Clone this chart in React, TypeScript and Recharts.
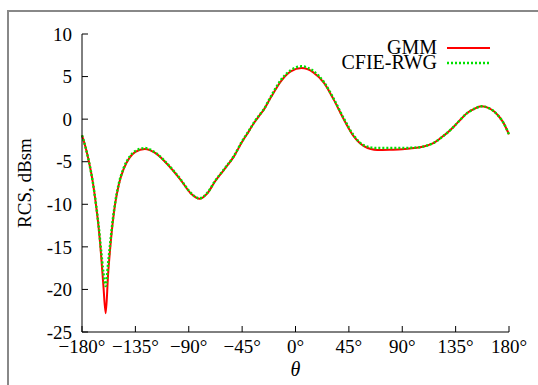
import { LineChart, Line, XAxis, YAxis, Legend } from 'recharts';

// angle samples (deg) and the two RCS curves (dBsm)
const theta = [
  -180, -177, -174, -171, -168, -166, -164, -162, -160, -158, -156, -154, -152, -149, -145, -140,
  -135, -127, -118, -108, -97, -88, -81, -74, -68, -60, -52, -45, -39, -35, -30, -27, -21, -12,
  -4, 5, 15, 24, 32, 41, 49, 58, 69, 80, 90, 100, 105, 112, 117, 123, 128, 134, 139, 145, 150,
  157, 163, 167, 171, 175, 180,
];
const gmm = [
  -1.9, -3.3, -5.1, -7.3, -10.3, -12.7, -15.8, -19.5, -22.8, -18.2, -14.8, -12.0, -9.9, -7.7,
  -5.9, -4.55, -3.85, -3.5, -4.0, -5.3, -7.1, -8.75, -9.35, -8.65, -7.35, -5.9, -4.4, -2.65, -1.35,
  -0.45, 0.5, 1.05, 2.5, 4.5, 5.6, 6.0, 5.5, 4.25, 2.35, -0.1, -2.0, -3.2, -3.63, -3.6, -3.55,
  -3.4, -3.3, -3.05, -2.75, -2.15, -1.6, -0.8, -0.07, 0.75, 1.15, 1.5, 1.3, 0.95, 0.4, -0.35,
  -1.8,
];
const cfie = [
  -1.9, -3.3, -5.1, -7.3, -10.2, -12.5, -15.3, -18.0, -19.6, -17.0, -14.3, -11.8, -9.8, -7.6,
  -5.8, -4.45, -3.75, -3.4, -3.95, -5.25, -7.05, -8.7, -9.3, -8.6, -7.3, -5.85, -4.35, -2.6,
  -1.3, -0.4, 0.55, 1.1, 2.6, 4.65, 5.75, 6.2, 5.65, 4.35, 2.45, 0.0, -1.9, -3.1, -3.4, -3.4,
  -3.4, -3.35, -3.3, -3.05, -2.75, -2.15, -1.6, -0.8, -0.05, 0.75, 1.15, 1.5, 1.3, 0.95, 0.4,
  -0.35, -1.8,
];
const xTicks = [-180, -135, -90, -45, 0, 45, 90, 135, 180];
const yTicks = [-25, -20, -15, -10, -5, 0, 5, 10];

const data = theta.map((t, i) => ({ theta: t, gmm: gmm[i], cfie: cfie[i] }));

const FONT = '"Liberation Serif", "Times New Roman", serif';
const RED = '#ff0000';
const GREEN = '#00e000';

const fmtDeg = (v: number) => (v < 0 ? `\u2212${Math.abs(v)}°` : `${v}°`);

const LegendBox = () => (
  <div style={{ fontFamily: FONT, fontSize: 20, color: '#000', lineHeight: '15px' }}>
    {[
      { name: 'GMM', color: RED, dash: undefined, w: 2 },
      { name: 'CFIE-RWG', color: GREEN, dash: '2 2', w: 2.5 },
    ].map((it) => (
      <div key={it.name} style={{ display: 'flex', alignItems: 'center', height: 15 }}>
        <span style={{ width: 137, textAlign: 'right', whiteSpace: 'nowrap' }}>{it.name}</span>
        <svg width={53} height={15}>
          <line x1={10} x2={53} y1={8} y2={8} stroke={it.color} strokeWidth={it.w} strokeDasharray={it.dash} />
        </svg>
      </div>
    ))}
  </div>
);

export default function App() {
  return (
    <div style={{ position: 'absolute', left: 0, top: 0, width: 538, height: 385, background: '#fff' }}>
      <div
        style={{
          position: 'absolute',
          left: 7,
          top: 10,
          width: 540,
          height: 400,
          borderTop: '2px solid #888',
          borderLeft: '2px solid #888',
        }}
      />
      <LineChart
        width={538}
        height={385}
        data={data}
        margin={{ top: 34, right: 29, bottom: 0, left: 0 }}
        style={{ position: 'absolute', left: 0, top: 0 }}
      >
        <XAxis
          dataKey="theta"
          type="number"
          domain={[-180, 180]}
          ticks={xTicks}
          tickFormatter={fmtDeg}
          height={53}
          stroke="#000"
          tickSize={-6}
          tickMargin={14}
          tick={{ fill: '#000', fontSize: 19, fontFamily: FONT }}
          label={{ value: 'θ', position: 'insideBottom', offset: 9, fill: '#000', fontSize: 20, fontStyle: 'italic', fontFamily: FONT }}
        />
        <XAxis
          xAxisId="top"
          orientation="top"
          dataKey="theta"
          type="number"
          domain={[-180, 180]}
          ticks={xTicks}
          height={0}
          stroke="#000"
          tickSize={-6}
          tick={false}
        />
        <YAxis
          type="number"
          domain={[-25, 10]}
          ticks={yTicks}
          width={82}
          stroke="#000"
          tickSize={-6}
          tickMargin={16}
          tick={{ fill: '#000', fontSize: 19, fontFamily: FONT }}
          label={{ value: 'RCS, dBsm', angle: -90, position: 'center', dx: -17, fill: '#000', fontSize: 19, fontFamily: FONT }}
        />
        <YAxis
          yAxisId="right"
          orientation="right"
          type="number"
          domain={[-25, 10]}
          ticks={yTicks}
          width={0}
          stroke="#000"
          tickSize={-6}
          tick={false}
        />
        <Legend
          layout="vertical"
          align="center"
          verticalAlign="middle"
          content={() => <LegendBox />}
          wrapperStyle={{ top: 40, left: 300, width: 200 }}
        />
        <Line
          type="monotone"
          dataKey="gmm"
          stroke={RED}
          strokeWidth={2}
          dot={false}
          isAnimationActive={false}
        />
        <Line
          type="monotone"
          dataKey="cfie"
          stroke={GREEN}
          strokeWidth={2.5}
          strokeDasharray="2 2"
          dot={false}
          isAnimationActive={false}
        />
      </LineChart>
    </div>
  );
}
